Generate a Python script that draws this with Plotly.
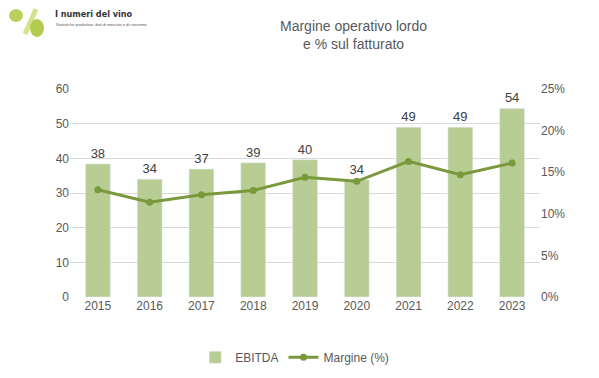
import plotly.graph_objects as go

years = ["2015", "2016", "2017", "2018", "2019", "2020", "2021", "2022", "2023"]
ebitda = [38.4, 34.0, 36.9, 38.7, 39.6, 33.8, 49.0, 49.0, 54.4]
margin_pct = [12.9, 11.4, 12.3, 12.8, 14.4, 13.9, 16.3, 14.7, 16.1]
left_ticks = [0, 10, 20, 30, 40, 50, 60]
right_ticks = [0, 5, 10, 15, 20, 25]

BAR = "#B7CD93"
LINE = "#7A983C"
TXT = "#595959"
FONT = "Liberation Sans"

fig = go.Figure()
fig.add_trace(go.Bar(
    x=years, y=ebitda, name="EBITDA", marker_color=BAR,
    text=[f"{v:.0f}" for v in ebitda], textposition="outside",
    textfont=dict(size=13, color="#404040", family=FONT),
    cliponaxis=False,
))
fig.add_trace(go.Scatter(
    x=years, y=margin_pct, name="Margine (%)", yaxis="y2",
    mode="lines+markers", line=dict(color=LINE, width=3),
    marker=dict(color=LINE, size=7),
))

PW = 470
PH = 208

fig.update_layout(
    width=591, height=370,
    margin=dict(l=62, r=59, t=81, b=81, autoexpand=False),
    paper_bgcolor="white", plot_bgcolor="white",
    font=dict(family=FONT, size=12, color=TXT),
    bargap=0.52,
    showlegend=True,
    legend=dict(orientation="h", x=0.478, xanchor="center", y=-0.29, yanchor="middle",
                font=dict(size=12, color=TXT), itemwidth=30),
    xaxis=dict(showgrid=False, showline=False, ticks="", automargin=False,
               tickfont=dict(size=12, color=TXT)),
    yaxis=dict(range=[0, 60], tickvals=left_ticks, showgrid=True, gridcolor="#D9D9D9",
               gridwidth=1, zeroline=False, showline=False, ticks="", automargin=False,
               tickfont=dict(size=12, color=TXT)),
    yaxis2=dict(range=[0, 25], tickvals=right_ticks, ticktext=[f"{t}%" for t in right_ticks],
                overlaying="y", side="right", showgrid=False, zeroline=False, automargin=False,
                showline=False, ticks="", tickfont=dict(size=12, color=TXT)),
    annotations=[
        dict(text="Margine operativo lordo<br>e % sul fatturato", xref="paper", yref="paper",
             x=(353 - 70) / PW, y=1 + (89 - 35) / PH, yanchor="middle", showarrow=False,
             font=dict(size=14, color=TXT, family=FONT)),
        dict(text="<b>I numeri del vino</b>", xref="paper", yref="paper",
             x=(53 - 70) / PW, xanchor="left", y=1 + (89 - 14) / PH, yanchor="middle",
             showarrow=False, font=dict(size=9, color="#333333", family="DejaVu Sans Condensed")),
        dict(text="Statistiche produttive, dati di mercato e di consumo", xref="paper", yref="paper",
             x=(54 - 70) / PW, xanchor="left", y=1 + (89 - 24) / PH, yanchor="middle",
             showarrow=False, font=dict(size=4, color="#555555", family=FONT)),
    ],
    shapes=[
        dict(type="line", xref="paper", yref="paper", x0=(25 - 70) / PW, y0=1 + (89 - 34) / PH,
             x1=(36 - 70) / PW, y1=1 + (89 - 9) / PH, line=dict(color="#D4E28A", width=5)),
        dict(type="circle", xref="paper", yref="paper", x0=(9 - 70) / PW, y0=1 + (89 - 22) / PH,
             x1=(23 - 70) / PW, y1=1 + (89 - 9) / PH, fillcolor="#B9D25E", line=dict(width=0)),
        dict(type="circle", xref="paper", yref="paper", x0=(30 - 70) / PW, y0=1 + (89 - 37) / PH,
             x1=(44 - 70) / PW, y1=1 + (89 - 19) / PH, fillcolor="#B2CC50", line=dict(width=0)),
    ],
)

fig.write_html("out.html")
